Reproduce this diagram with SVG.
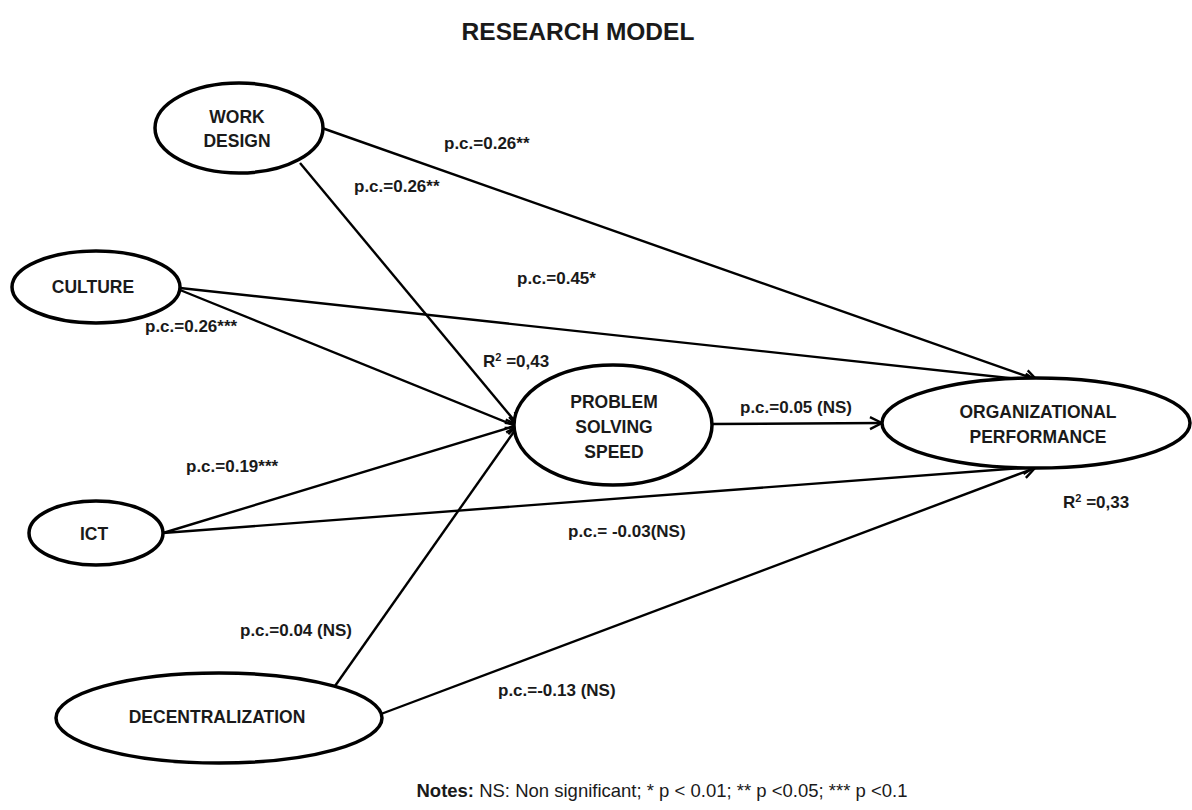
<svg xmlns="http://www.w3.org/2000/svg" width="1192" height="810" viewBox="0 0 1192 810">
<defs>
<style>
.node ellipse{fill:#fff;stroke:#000;stroke-width:3.5}
.nt{font-family:"Liberation Sans",Arial,sans-serif;font-weight:bold;font-size:17.5px;fill:#1a1a1a;text-anchor:middle}
.lbl{font-family:"Liberation Sans",Arial,sans-serif;font-weight:bold;font-size:17px;fill:#1a1a1a}
.edge{stroke:#000;stroke-width:2.4;fill:none;marker-end:url(#arr)}
</style>
<marker id="arr" markerUnits="userSpaceOnUse" markerWidth="16" markerHeight="16" viewBox="0 0 16 16" refX="14" refY="8" orient="auto">
<path d="M2,2 L14,8 L2,14" fill="none" stroke="#000" stroke-width="2.4"/>
</marker>
</defs>
<rect width="1192" height="810" fill="#fff"/>
<text x="578" y="40" style="font-family:'Liberation Sans',Arial,sans-serif;font-weight:bold;font-size:24.5px;fill:#1a1a1a;text-anchor:middle">RESEARCH MODEL</text>

<g id="connectors">
<line class="edge" x1="322" y1="128" x2="1037" y2="380"/>
<line class="edge" x1="300" y1="163" x2="518" y2="425"/>
<line class="edge" x1="180" y1="288" x2="1037" y2="381"/>
<line class="edge" x1="180" y1="290" x2="518" y2="427"/>
<line class="edge" x1="163" y1="533" x2="518" y2="425"/>
<line class="edge" x1="163" y1="533" x2="1035" y2="467"/>
<line class="edge" x1="335" y1="686" x2="518" y2="426"/>
<line class="edge" x1="381" y1="714" x2="1035" y2="468"/>
<line class="edge" x1="712" y1="424" x2="882" y2="423"/>
</g>

<g id="work-design" class="node">
<ellipse cx="239" cy="128" rx="84" ry="45"/>
<text class="nt" x="237" y="123">WORK</text>
<text class="nt" x="237" y="147">DESIGN</text>
</g>
<g id="culture" class="node">
<ellipse cx="96" cy="287" rx="84" ry="36"/>
<text class="nt" x="93" y="293">CULTURE</text>
</g>
<g id="ict" class="node">
<ellipse cx="96" cy="533" rx="67" ry="32"/>
<text class="nt" x="94" y="540">ICT</text>
</g>
<g id="decentralization" class="node">
<ellipse cx="219" cy="718" rx="163" ry="45"/>
<text class="nt" x="217" y="723">DECENTRALIZATION</text>
</g>
<g id="problem-solving-speed" class="node">
<ellipse cx="613" cy="425" rx="99" ry="60"/>
<text class="nt" x="614" y="408">PROBLEM</text>
<text class="nt" x="614" y="433">SOLVING</text>
<text class="nt" x="614" y="458">SPEED</text>
</g>
<g id="organizational-performance" class="node">
<ellipse cx="1036" cy="423" rx="154" ry="45"/>
<text class="nt" x="1038" y="418">ORGANIZATIONAL</text>
<text class="nt" x="1038" y="443">PERFORMANCE</text>
</g>

<g id="labels">
<text class="lbl" x="444" y="149">p.c.=0.26**</text>
<text class="lbl" x="354" y="192">p.c.=0.26**</text>
<text class="lbl" x="517" y="284">p.c.=0.45*</text>
<text class="lbl" x="145" y="332">p.c.=0.26***</text>
<text class="lbl" x="483" y="367">R<tspan font-size="11" dy="-6">2</tspan><tspan dy="6"> =0,43</tspan></text>
<text class="lbl" x="740" y="413">p.c.=0.05 (NS)</text>
<text class="lbl" x="186" y="472">p.c.=0.19***</text>
<text class="lbl" x="568" y="537">p.c.= -0.03(NS)</text>
<text class="lbl" x="240" y="636">p.c.=0.04 (NS)</text>
<text class="lbl" x="498" y="696">p.c.=-0.13 (NS)</text>
<text class="lbl" x="1063" y="508">R<tspan font-size="11" dy="-6">2</tspan><tspan dy="6"> =0,33</tspan></text>
</g>

<text x="662" y="797" style="font-family:'Liberation Sans',Arial,sans-serif;font-size:18.5px;fill:#1a1a1a;text-anchor:middle"><tspan font-weight="bold">Notes:</tspan> NS: Non significant; * p &lt; 0.01; ** p &lt;0.05; *** p &lt;0.1</text>
</svg>
